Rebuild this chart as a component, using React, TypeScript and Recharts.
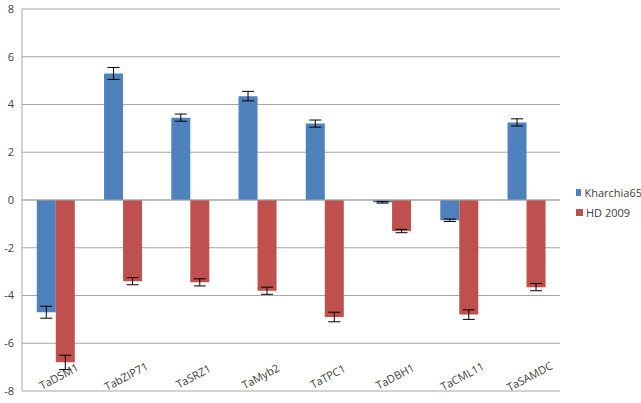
import React from 'react';
import { BarChart, Bar, XAxis, YAxis, CartesianGrid, ReferenceLine, ErrorBar, Legend } from 'recharts';

const genes = ['TaDSM1', 'TabZIP71', 'TaSRZ1', 'TaMyb2', 'TaTPC1', 'TaDBH1', 'TaCML11', 'TaSAMDC'];
const kharchia65 = [-4.7, 5.3, 3.45, 4.35, 3.2, -0.1, -0.85, 3.25];
const kharchia65Err = [0.25, 0.25, 0.15, 0.2, 0.15, 0.03, 0.05, 0.15];
const hd2009 = [-6.8, -3.4, -3.45, -3.8, -4.9, -1.3, -4.8, -3.65];
const hd2009Err = [0.3, 0.15, 0.15, 0.15, 0.2, 0.07, 0.2, 0.15];
const yTicks = [-8, -6, -4, -2, 0, 2, 4, 6, 8];

const data = genes.map((g, i) => ({
  gene: g,
  k: kharchia65[i],
  kErr: kharchia65Err[i],
  hd: hd2009[i],
  hdErr: hd2009Err[i],
}));

const BLUE = '#4F81BD';
const RED = '#C0504D';
const FONT = '"Open Sans", "DejaVu Sans", sans-serif';

const XTick = (props: any) => {
  const { x, y, payload } = props;
  const cx = x + 3;
  const cy = y - 15;
  return (
    <text
      x={cx}
      y={cy}
      textAnchor="middle"
      dominantBaseline="central"
      transform={`rotate(-28, ${cx}, ${cy})`}
      fontSize={11}
      fontFamily={FONT}
      fill="#404040"
    >
      {payload.value}
    </text>
  );
};

const LegendContent = () => {
  const items = [
    { label: 'Kharchia65', color: BLUE },
    { label: 'HD 2009', color: RED },
  ];
  return (
    <div style={{ fontFamily: FONT, fontSize: 11, color: '#404040' }}>
      {items.map((it) => (
        <div key={it.label} style={{ display: 'flex', alignItems: 'center', height: 20 }}>
          <span style={{ display: 'inline-block', width: 7, height: 7, background: it.color, marginRight: 3 }} />
          <span>{it.label}</span>
        </div>
      ))}
    </div>
  );
};

export default function App() {
  return (
    <div style={{ position: 'absolute', left: 0, top: 0, width: 641, height: 403, background: '#fff' }}>
      <BarChart
        width={641}
        height={403}
        data={data}
        margin={{ top: 9, right: 15, bottom: 0, left: 0 }}
        barGap={0}
        barCategoryGap="22%"
      >
        <CartesianGrid horizontal vertical={false} stroke="#A6A6A6" />
        <XAxis
          dataKey="gene"
          height={12}
          axisLine={false}
          tickLine={false}
          tickSize={0}
          tickMargin={0}
          interval={0}
          tick={<XTick />}
        />
        <YAxis
          width={22}
          domain={[-8, 8]}
          ticks={yTicks}
          interval={0}
          axisLine={{ stroke: '#A6A6A6' }}
          tickLine={false}
          tick={{ fontSize: 11, fontFamily: FONT, fill: '#404040' }}
        />
        <ReferenceLine y={0} stroke="#A6A6A6" />
        <Legend
          layout="vertical"
          align="right"
          verticalAlign="middle"
          content={<LegendContent />}
          wrapperStyle={{ width: 66, left: 576, top: 182 }}
        />
        <Bar dataKey="k" name="Kharchia65" fill={BLUE} isAnimationActive={false}>
          <ErrorBar dataKey="kErr" width={6} stroke="#000" strokeWidth={1} />
        </Bar>
        <Bar dataKey="hd" name="HD 2009" fill={RED} isAnimationActive={false}>
          <ErrorBar dataKey="hdErr" width={6} stroke="#000" strokeWidth={1} />
        </Bar>
      </BarChart>
    </div>
  );
}
